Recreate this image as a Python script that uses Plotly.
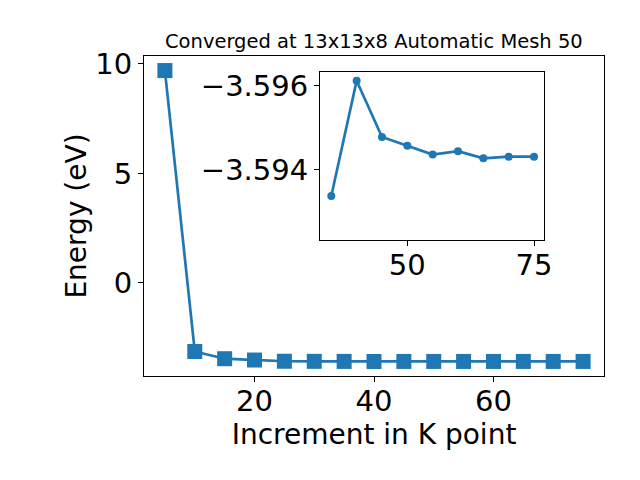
import plotly.graph_objects as go

# Main series
kpoints = [5, 10, 15, 20, 25, 30, 35, 40, 45, 50, 55, 60, 65, 70, 75]
energy = [9.70, -3.14, -3.47, -3.53, -3.585, -3.590, -3.59337, -3.59612, -3.59478,
          -3.59457, -3.59436, -3.59444, -3.59427, -3.59431, -3.59431]

# Inset series (converged region)
inset_k = [35, 40, 45, 50, 55, 60, 65, 70, 75]
inset_e = [-3.59337, -3.59612, -3.59478, -3.59457, -3.59436, -3.59444, -3.59427, -3.59431, -3.59431]

main_xticks = [20, 40, 60]
main_yticks = [0, 5, 10]
inset_xticks = [50, 75]
inset_yticks = [-3.596, -3.594]
inset_yticklabels = ["\u22123.596", "\u22123.594"]

title_text = "Converged at 13x13x8 Automatic Mesh 50"
color = "#1f77b4"
font = "DejaVu Sans"

fig = go.Figure()
fig.add_trace(go.Scatter(x=kpoints, y=energy, mode="lines+markers",
                         line=dict(color=color, width=2.7),
                         marker=dict(symbol="square", size=15, color=color),
                         xaxis="x", yaxis="y", showlegend=False))
fig.add_trace(go.Scatter(x=inset_k, y=inset_e, mode="lines+markers",
                         line=dict(color=color, width=2.7),
                         marker=dict(symbol="circle", size=8, color=color),
                         xaxis="x2", yaxis="y2", showlegend=False))

axis_common = dict(showline=True, mirror=True, linecolor="black", linewidth=1,
                   ticks="outside", ticklen=5, tickwidth=1, tickcolor="black",
                   showgrid=False, zeroline=False, automargin=False,
                   tickfont=dict(family=font, size=29, color="black"))

fig.update_layout(
    width=632, height=472,
    margin=dict(l=136, r=36, t=48, b=104),
    paper_bgcolor="white", plot_bgcolor="white",
    font=dict(family=font, color="black"),
    xaxis=dict(domain=[0, 1], range=[1.5, 78.5], tickvals=main_xticks,
               ticklabelstandoff=-6,
               title=dict(text="Increment in K point", font=dict(size=28), standoff=0),
               **axis_common),
    yaxis=dict(domain=[0, 1], range=[-4.26, 10.365], tickvals=main_yticks,
               title=dict(text="Energy (eV)", font=dict(size=28), standoff=0),
               **axis_common),
    xaxis2=dict(domain=[0.3826, 0.8696], anchor="y2", range=[32.77, 76.97],
                ticklabelstandoff=-6, tickvals=inset_xticks, **axis_common),
    yaxis2=dict(domain=[0.425, 0.95], anchor="x2", range=[-3.59232, -3.59633],
                tickvals=inset_yticks, ticktext=inset_yticklabels, **axis_common),
    annotations=[dict(text=title_text, xref="paper", yref="paper", x=0.5, y=1.044,
                      xanchor="center", yanchor="middle", showarrow=False,
                      font=dict(family=font, size=19.5, color="black"))],
)

fig.write_html("out.html")
